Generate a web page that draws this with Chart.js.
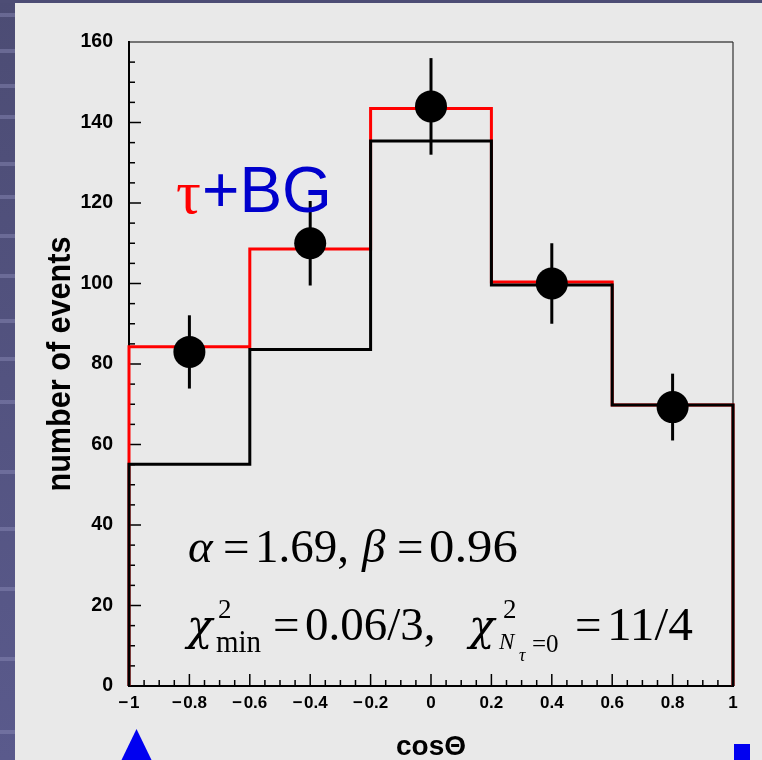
<!DOCTYPE html>
<html><head><meta charset="utf-8">
<script src="https://cdn.jsdelivr.net/npm/chart.js@4"></script>
<style>html,body{margin:0;padding:0;background:#e9e9e9;overflow:hidden}#wrap{width:762px;height:760px;position:relative}</style>
</head><body><div id="wrap"><canvas id="c" width="762" height="760"></canvas></div>
<script>
// ---- data ----
const binEdges = [-1, -0.6, -0.2, 0.2, 0.6, 1];
const fitTotal = [84.3, 108.6, 143.5, 100.4, 69.8];      // red: tau + BG
const fitBackground = [55.1, 83.6, 135.4, 99.6, 69.8];   // black
const dataX = [-0.8, -0.4, 0, 0.4, 0.8];
const dataY = [83, 110, 144, 100, 69.3];
const dataErr = [9.1, 10.5, 12, 10, 8.3];
const xTickValues = [-1, -0.8, -0.6, -0.4, -0.2, 0, 0.2, 0.4, 0.6, 0.8, 1];
const yTickValues = [0, 20, 40, 60, 80, 100, 120, 140, 160];
const xTitle = 'cos\u0398';
const yTitle = 'number of events';

const SANS = '"Liberation Sans", Arial, Helvetica, sans-serif';
const SERIF = '"Liberation Serif", "Times New Roman", serif';
const GREEK = '"DejaVu Serif", "Liberation Serif", serif';

function stepPoints(edges, vals) {
  const pts = [{x: edges[0], y: 0}];
  vals.forEach((v, i) => { pts.push({x: edges[i], y: v}); pts.push({x: edges[i + 1], y: v}); });
  pts.push({x: edges[edges.length - 1], y: 0});
  return pts;
}
function fmtX(v) {
  if (Math.abs(v) < 1e-9) return '0';
  const s = String(Math.round(Math.abs(v) * 10) / 10);
  return v < 0 ? '\u2212\u200a' + s : s;
}

const bgPlugin = {
  id: 'slideBg',
  beforeDraw(chart) {
    const ctx = chart.ctx;
    ctx.save();
    ctx.fillStyle = '#e9e9e9';
    ctx.fillRect(0, 0, 762, 760);
    const g = ctx.createLinearGradient(0, 0, 0, 760);
    g.addColorStop(0, '#4c4c74');
    g.addColorStop(1, '#5a5a8c');
    ctx.fillStyle = g;
    ctx.fillRect(0, 0, 15, 760);
    ctx.fillStyle = '#4d4d75';
    ctx.fillRect(0, 0, 762, 3);
    ctx.fillStyle = 'rgba(140,140,185,0.45)';
    [13, 49, 84, 115, 162, 195, 234, 274, 319, 357, 400, 470, 527, 587, 657, 730].forEach(y => ctx.fillRect(0, y, 15, 4));
    ctx.restore();
  },
  afterDraw(chart) {
    const ctx = chart.ctx;
    ctx.save();
    ctx.fillStyle = '#0000f0';
    ctx.beginPath();
    ctx.moveTo(136.5, 729); ctx.lineTo(121, 761); ctx.lineTo(152, 761); ctx.closePath(); ctx.fill();
    ctx.fillRect(734, 744, 16, 16);
    ctx.restore();
  }
};

const frameTicksPlugin = {
  id: 'frameTicks',
  beforeDatasetsDraw(chart) {
    const {ctx, chartArea: ca, scales: {x, y}} = chart;
    ctx.save();
    ctx.strokeStyle = '#000';
    ctx.lineWidth = 1.5;
    for (let i = 1; i * 5 < y.max - y.min; i++) {
      const v = y.min + i * 5;
      const p = y.getPixelForValue(v);
      const len = (v % 20 === 0) ? 12 : 6;
      ctx.beginPath(); ctx.moveTo(ca.left, p); ctx.lineTo(ca.left + len, p); ctx.stroke();
    }
    for (let i = 1; i < 40; i++) {
      const v = x.min + i * 0.05;
      const p = x.getPixelForValue(v);
      const len = (i % 4 === 0) ? 12 : 6;
      ctx.beginPath(); ctx.moveTo(p, ca.bottom); ctx.lineTo(p, ca.bottom - len); ctx.stroke();
    }
    ctx.lineWidth = 1.2;
    ctx.beginPath(); ctx.moveTo(ca.left, ca.top); ctx.lineTo(ca.right, ca.top); ctx.stroke();
    ctx.strokeStyle = '#333';
    ctx.beginPath(); ctx.moveTo(ca.right, ca.top); ctx.lineTo(ca.right, ca.bottom); ctx.stroke();
    ctx.restore();
  }
};

const errorBarPlugin = {
  id: 'errorBars',
  afterDatasetsDraw(chart) {
    const {ctx, scales: {x, y}} = chart;
    ctx.save();
    ctx.strokeStyle = '#000';
    ctx.lineWidth = 3;
    dataX.forEach((xv, i) => {
      const px = x.getPixelForValue(xv);
      ctx.beginPath();
      ctx.moveTo(px, y.getPixelForValue(dataY[i] + dataErr[i]));
      ctx.lineTo(px, y.getPixelForValue(dataY[i] - dataErr[i]));
      ctx.stroke();
    });
    ctx.restore();
  }
};

function run(ctx, t, x, y, font, color, sx, sy) {
  ctx.save();
  ctx.font = font; ctx.fillStyle = color || '#000';
  ctx.textAlign = 'left'; ctx.textBaseline = 'alphabetic';
  ctx.translate(x, y);
  ctx.scale(sx || 1, sy || 1);
  ctx.fillText(t, 0, 0);
  ctx.restore();
}

const textPlugin = {
  id: 'annotText',
  afterDraw(chart) {
    const {ctx, chartArea: ca} = chart;
    ctx.save();
    // y axis title (rotated, slightly condensed like the original)
    ctx.save();
    ctx.translate(70, (ca.top + ca.bottom) / 2);
    ctx.rotate(-Math.PI / 2);
    ctx.scale(0.9, 1);
    ctx.font = 'bold 34px ' + SANS;
    ctx.fillStyle = '#000';
    ctx.textAlign = 'center'; ctx.textBaseline = 'alphabetic';
    ctx.fillText(yTitle, 0, 0);
    ctx.restore();
    // tau + BG
    run(ctx, '\u03c4', 176, 213, '62px ' + SERIF, '#ff0000');
    run(ctx, '+BG', 202, 212, '64px ' + SANS, '#0000cc');
    // alpha, beta line
    const B1 = 562, big = '47px ' + SERIF, bigI = 'italic 47px ' + SERIF;
    run(ctx, '\u03b1', 188, B1, bigI);
    run(ctx, '=', 223, B1, big);
    run(ctx, '1.69,', 255, B1, big);
    run(ctx, '\u03b2', 362, B1, bigI);
    run(ctx, '=', 397, B1, big);
    run(ctx, '0.96', 429, B1, big, '#000', 1.08, 1);
    // chi2 line
    const B2 = 640, mid = '47px ' + SERIF;
    run(ctx, '\u03c7', 187, B2, 'italic 42px ' + GREEK);
    run(ctx, '2', 218, 618, '27px ' + SERIF);
    run(ctx, 'min', 216, 652, '29px ' + SERIF, '#000', 1, 1.1);
    run(ctx, '=', 273, B2, mid);
    run(ctx, '0.06/3,', 305, B2, mid);
    run(ctx, '\u03c7', 469, B2, 'italic 42px ' + GREEK);
    run(ctx, '2', 503, 618, '27px ' + SERIF);
    run(ctx, 'N', 499, 649, 'italic 23px ' + SERIF);
    run(ctx, '\u03c4', 519, 661, 'italic 18px ' + SERIF);
    run(ctx, '=0', 532, 652, '25px ' + SERIF);
    run(ctx, '=', 575, B2, mid);
    run(ctx, '11/4', 607, B2, mid, '#000', 1.05, 1);
    ctx.restore();
  }
};

new Chart(document.getElementById('c'), {
  type: 'line',
  data: {
    datasets: [
      { label: 'data', data: dataX.map((xv, i) => ({x: xv, y: dataY[i]})), showLine: false,
        pointRadius: 16, pointBackgroundColor: '#000', pointBorderWidth: 0, borderColor: '#000', order: 0, clip: false },
      { label: 'background', data: stepPoints(binEdges, fitBackground), borderColor: '#000', borderWidth: 3,
        pointRadius: 0, fill: false, tension: 0, borderJoinStyle: 'miter', order: 1, clip: false },
      { label: 'tau+BG', data: stepPoints(binEdges, fitTotal), borderColor: '#ff0000', borderWidth: 3,
        pointRadius: 0, fill: false, tension: 0, borderJoinStyle: 'miter', order: 2, clip: false }
    ]
  },
  options: {
    responsive: false,
    animation: false,
    events: [],
    layout: { padding: { left: 0, top: 42, right: 29, bottom: 0 } },
    plugins: { legend: { display: false }, tooltip: { enabled: false } },
    scales: {
      x: {
        type: 'linear', min: -1, max: 1,
        afterBuildTicks: s => { s.ticks = xTickValues.map(v => ({value: v})); },
        afterFit: s => { s.height = 74; },
        ticks: { autoSkip: false, maxRotation: 0, padding: 7, color: '#000',
                 font: { family: SANS, size: 17, weight: 'bold' }, callback: v => fmtX(v) },
        grid: { display: true, drawOnChartArea: false, drawTicks: false },
        border: { display: true, color: '#000', width: 2 },
        title: { display: true, text: xTitle, color: '#000', padding: 0,
                 font: { family: SANS, size: 28, weight: 'bold', lineHeight: 0.9 } }
      },
      y: {
        type: 'linear', min: 0, max: 160,
        afterBuildTicks: s => { s.ticks = yTickValues.map(v => ({value: v})); },
        afterFit: s => { s.width = 129; },
        ticks: { autoSkip: false, padding: 16, color: '#000',
                 font: { family: SANS, size: 19.5, weight: 'bold' } },
        grid: { display: true, drawOnChartArea: false, drawTicks: false },
        border: { display: true, color: '#000', width: 2 },
        title: { display: false }
      }
    }
  },
  plugins: [bgPlugin, frameTicksPlugin, errorBarPlugin, textPlugin]
});
</script>
</body></html>
